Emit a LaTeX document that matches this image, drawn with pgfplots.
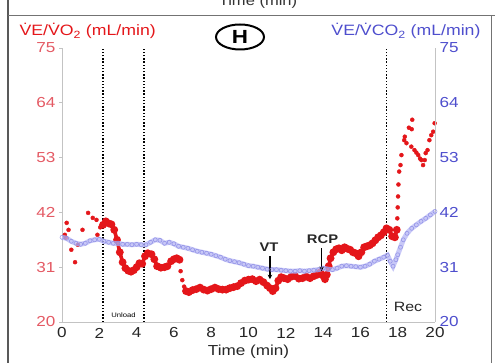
\documentclass[border=0pt]{standalone}
\usepackage{pgfplots}
\pgfplotsset{compat=1.18}
\usepackage{fontspec}
\setmainfont{Liberation Sans}[FakeStretch=1.18]
\usetikzlibrary{arrows.meta}

\definecolor{vored}{RGB}{228,22,26}
\definecolor{vcoband}{RGB}{182,182,244}
\definecolor{vcoedge}{RGB}{135,135,228}
\definecolor{lefttick}{RGB}{228,90,100}
\definecolor{righttick}{RGB}{78,78,205}
\definecolor{axgray}{RGB}{195,195,195}

\begin{document}
\begin{tikzpicture}[x=1pt,y=1pt]
\useasboundingbox (0,0) rectangle (495,363);
% panel frame and the cut-off axis title of the panel above
\draw[line width=1.1pt, black!65] (8,0) -- (8,363);
\draw[line width=0.9pt, black!55] (8,348) -- (495,348);
\draw[line width=0.9pt, black!55] (491,348) -- (491,0);
\node[anchor=base, font=\fontsize{14}{16}\selectfont, black!80] at (258,357) {Time (min)};

% left axis: VE/VO2
\begin{axis}[
  at={(62pt,41pt)}, anchor=south west, scale only axis,
  width=373pt, height=274pt,
  xmin=0, xmax=20, ymin=20, ymax=75,
  axis x line*=bottom, axis y line*=left,
  axis line style={-, axgray, line width=0.8pt},
  xtick={0,2,...,20}, ytick={20,31,42,53,64,75},
  tick align=outside, major tick length=3pt,
  xtick style={draw=none},
  ytick style={axgray, line width=0.6pt},
  /pgf/number format/assume math mode=true,
  xticklabel style={font=\fontsize{14.5}{16}\selectfont, black!85, anchor=center, yshift=-8pt},
  yticklabel style={font=\fontsize{14.5}{16}\selectfont, lefttick},
  xlabel={Time (min)},
  xlabel style={font=\fontsize{14.5}{16}\selectfont, black!85,
    at={(axis description cs:0.5,0)}, anchor=center, yshift=-30pt},
  clip=false,
]
% protocol phase boundaries
\draw[black, line width=1.4pt, dash pattern=on 1.3pt off 1.9pt] (axis cs:2.2,20) -- (axis cs:2.2,75);
\draw[black, line width=1.4pt, dash pattern=on 1.3pt off 1.9pt] (axis cs:4.4,20) -- (axis cs:4.4,75);
\draw[black, line width=1.4pt, dash pattern=on 1.3pt off 1.9pt] (axis cs:17.4,20) -- (axis cs:17.4,75);
\node[font=\fontsize{6.5}{6.5}\selectfont] at (axis cs:3.3,21.4) {Unload};
\node[font=\fontsize{13.5}{14}\selectfont, black!85] at (axis cs:18.55,23.0) {Rec};

% VE/VO2, scattered breaths
\addplot[only marks, mark=*, mark size=2pt, color=vored] coordinates {
(0.15,37.5) (0.25,39.9) (0.35,38.5) (0.2,36.9) (0.5,34.5) (0.7,32.0)
(0.85,35.5) (1.1,38.5) (1.4,41.9) (1.65,40.9) (1.85,40.5) (1.9,37.5)
(2.05,39.0) (6.36,30.2) (6.45,28.4) (6.55,27.1)
(17.98,40.8) (18.0,43.0) (18.02,45.2) (18.04,47.6) (18.08,50.2)
(18.15,51.5) (18.2,53.5) (18.35,56.5) (18.38,57.2) (18.47,55.9)
(18.6,59.0) (18.73,55.2) (18.75,58.7) (18.78,60.6) (18.9,54.5)
(19.0,54.0) (19.1,53.5) (19.2,52.8) (19.27,52.5) (19.36,51.5)
(19.45,52.5) (19.5,53.9) (19.6,54.5) (19.7,56.5) (19.8,57.5)
(19.9,58.2) (19.98,59.9)
};
% VE/VO2, dense stretches
\addplot[mark=*, mark size=2pt, color=vored, line width=3.6pt] coordinates {
(2.2,39.5) (2.35,40.2) (2.5,39.8) (2.65,39.6) (2.8,38.5) (2.95,36.5)
(3.1,34.0) (3.25,32.0) (3.4,30.8) (3.55,30.3) (3.7,30.1) (3.85,30.4)
(4.0,31.0) (4.15,31.8) (4.3,31.7) (4.45,33.2) (4.6,33.8) (4.8,33.6)
(4.95,32.6) (5.1,31.2) (5.3,30.9) (5.5,31.0) (5.65,31.2)
};
\addplot[mark=*, mark size=2pt, color=vored, line width=3.6pt] coordinates {
(5.85,32.2) (6.0,32.6) (6.15,32.8) (6.3,32.5)
};
\addplot[mark=*, mark size=2pt, color=vored, line width=3.6pt] coordinates {
(6.65,26.2) (6.8,26.0) (7.0,26.4) (7.2,26.6) (7.4,26.9) (7.6,26.5)
(7.8,26.3) (8.0,26.6) (8.2,26.9) (8.4,26.6) (8.6,26.5) (8.8,26.5)
(9.0,26.8) (9.2,27.0) (9.4,27.2) (9.6,27.8) (9.8,28.3) (10.0,28.5)
(10.2,28.6) (10.4,28.2) (10.6,28.5) (10.8,28.0) (11.0,27.3) (11.15,26.8)
(11.3,26.2) (11.45,26.8) (11.6,28.3) (11.75,29.0) (11.9,28.8) (12.1,28.6)
(12.3,29.1) (12.5,29.2) (12.7,28.7) (12.9,28.8) (13.1,29.1) (13.3,28.8)
(13.5,29.2) (13.7,29.5) (13.85,30.0) (14.0,29.3) (14.1,28.6) (14.2,29.5)
(14.3,31.2) (14.4,32.8) (14.55,34.0) (14.7,34.6) (14.85,34.8) (15.0,34.4)
(15.15,35.0) (15.3,34.7) (15.45,34.5) (15.6,34.0) (15.75,33.8) (15.9,33.2)
(16.05,34.0) (16.2,35.0) (16.35,35.2) (16.5,35.4) (16.65,35.8) (16.8,36.4)
(16.95,37.0) (17.1,37.4) (17.25,38.0) (17.4,38.8) (17.55,38.5) (17.7,37.2)
(17.85,37.0) (17.95,38.5)
};
\end{axis}

% right axis: VE/VCO2
\begin{axis}[
  at={(62pt,41pt)}, anchor=south west, scale only axis,
  width=373pt, height=274pt,
  xmin=0, xmax=20, ymin=20, ymax=75,
  axis x line=none, axis y line*=right,
  axis line style={-, axgray, line width=0.8pt},
  ytick={20,31,42,53,64,75},
  ytick style={draw=none},
  /pgf/number format/assume math mode=true,
  yticklabel style={font=\fontsize{14.5}{16}\selectfont, righttick, xshift=1pt},
  clip=false,
]
\addplot[color=vcoband, line width=5pt, opacity=0.75,
  mark=o, mark size=2pt, mark options={draw=vcoedge, line width=0.6pt, opacity=0.8}] coordinates {
(0.0,37.0) (0.25,36.8) (0.5,36.2) (0.75,35.8) (1.0,35.6) (1.25,35.8)
(1.5,36.3) (1.75,36.5) (2.0,36.6) (2.25,36.2) (2.5,36.0) (2.75,35.8)
(3.0,35.8) (3.25,35.6) (3.5,35.6) (3.75,35.5) (4.0,35.6) (4.25,35.5)
(4.5,35.5) (4.75,36.0) (5.0,36.5) (5.25,36.4) (5.5,35.8) (5.75,36.0)
(6.0,35.7) (6.25,35.2) (6.5,35.0) (6.75,34.8) (7.0,34.5) (7.25,34.2)
(7.5,34.0) (7.75,33.8) (8.0,33.6) (8.25,33.3) (8.5,33.0) (8.75,32.6)
(9.0,32.3) (9.25,32.1) (9.5,31.9) (9.75,31.6) (10.0,31.3) (10.25,31.2)
(10.5,31.0) (10.75,30.8) (11.0,30.6) (11.25,30.5) (11.5,30.5) (11.75,30.4)
(12.0,30.3) (12.25,30.2) (12.5,30.2) (12.75,30.3) (13.0,30.2) (13.25,30.3)
(13.5,30.4) (13.75,30.5) (14.0,30.8) (14.25,30.6) (14.5,30.5) (14.75,30.8)
(15.0,31.2) (15.25,31.3) (15.5,31.2) (15.75,31.1) (16.0,31.0) (16.25,31.2)
(16.5,31.6) (16.75,32.2) (17.0,32.6) (17.25,33.0) (17.45,33.4) (17.6,32.2)
(17.75,31.2) (17.9,32.5) (18.0,33.5) (18.15,35.0) (18.3,36.5) (18.5,37.8)
(18.75,38.8) (19.0,39.5) (19.25,40.2) (19.5,40.8) (19.75,41.5) (20.0,42.2)
};
% threshold markers
\node[font=\bfseries\fontsize{12.5}{13}\selectfont, black!85] at (axis cs:11.1,35.0) {VT};
\draw[-{Stealth[length=4.5pt,width=4.5pt]}, line width=1.3pt] (axis cs:11.15,33.2) -- (axis cs:11.15,28.6);
\node[font=\bfseries\fontsize{12.5}{13}\selectfont, black!85] at (axis cs:13.97,36.6) {RCP};
\draw[-{Stealth[length=4.5pt,width=4.5pt]}, line width=1.3pt] (axis cs:13.92,34.8) -- (axis cs:13.92,30.2);
\end{axis}

% axis titles and panel badge
\node[anchor=west, font=\fontsize{15}{17}\selectfont, vored] at (16,332) {\.VE/\.VO\textsubscript{2} (mL/min)};
\node[anchor=east, font=\fontsize{15}{17}\selectfont, righttick] at (484,332) {\.VE/\.VCO\textsubscript{2} (mL/min)};
\draw[line width=2pt] (240,326) ellipse (24 and 12.5);
\node[font=\bfseries\fontsize{19}{19}\selectfont] at (240,326) {H};
\end{tikzpicture}
\end{document}
